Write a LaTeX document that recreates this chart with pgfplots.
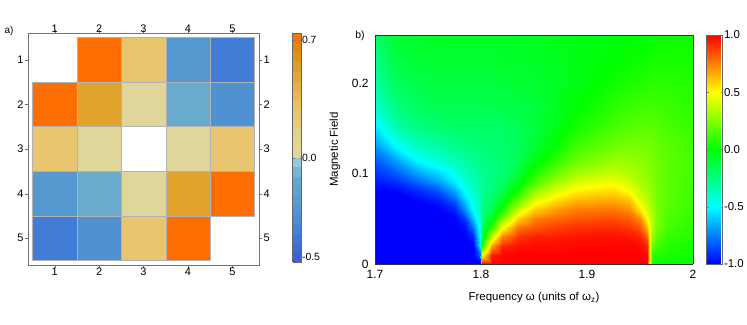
\documentclass[border=0pt]{standalone}
\usepackage{fontspec}
\setmainfont{Liberation Sans}
\usepackage{pgfplots}
\pgfplotsset{compat=1.18}
\begin{document}
\begin{tikzpicture}
\pgfplotsset{/pgf/number format/assume math mode=true}
% ---------------- panel a ----------------
\begin{axis}[
  at={(28bp,60bp)}, anchor=south west, scale only axis, width=231bp, height=232bp,
  xmin=0.4, xmax=5.6, ymin=0.4, ymax=5.6, y dir=reverse,
  xtick={1,2,3,4,5}, ytick={1,2,3,4,5},
  tick align=outside, major tick length=3bp,
  axis line style={draw=black!55}, tick style={black!55},
  xticklabel pos=lower, yticklabel pos=left,
  ticklabel style={font=\fontsize{11}{13}\selectfont},
  xticklabel style={yshift=4bp}, yticklabel style={xshift=2bp},
  colormap={cba}{
    rgb255(0pt)=(62,90,212)
    rgb255(15pt)=(65,125,215)
    rgb255(25pt)=(80,145,210)
    rgb255(35pt)=(92,160,207)
    rgb255(45pt)=(105,170,205)
    rgb255(54pt)=(160,205,225)
    rgb255(55pt)=(224,216,158)
    rgb255(65pt)=(226,212,148)
    rgb255(80pt)=(232,197,110)
    rgb255(90pt)=(230,180,78)
    rgb255(100pt)=(225,163,45)
    rgb255(110pt)=(222,142,20)
    rgb255(120pt)=(255,110,0)
  },
  point meta min=-0.5, point meta max=0.7,
  colorbar sampled,
  colorbar style={samples=25, at={(parent axis.north east)}, anchor=north west,
    xshift=25bp, scale only axis, width=9bp, height=229bp,
    ytick={-0.474,0.045,0.663}, yticklabels={-0.5,0.0,0.7},
    major tick length=2bp, axis line style={draw=black!60},
    yticklabel style={font=\fontsize{10.5}{12}\selectfont, xshift=-3bp}},
]
\addplot[patch, patch type=rectangle, shader=faceted, faceted color=black!30, point meta=explicit] coordinates {
(1.5,0.5)[0.7] (2.5,0.5)[0.7] (2.5,1.5)[0.7] (1.5,1.5)[0.7]
(2.5,0.5)[0.3] (3.5,0.5)[0.3] (3.5,1.5)[0.3] (2.5,1.5)[0.3]
(3.5,0.5)[-0.2] (4.5,0.5)[-0.2] (4.5,1.5)[-0.2] (3.5,1.5)[-0.2]
(4.5,0.5)[-0.35] (5.5,0.5)[-0.35] (5.5,1.5)[-0.35] (4.5,1.5)[-0.35]
(0.5,1.5)[0.7] (1.5,1.5)[0.7] (1.5,2.5)[0.7] (0.5,2.5)[0.7]
(1.5,1.5)[0.5] (2.5,1.5)[0.5] (2.5,2.5)[0.5] (1.5,2.5)[0.5]
(2.5,1.5)[0.1] (3.5,1.5)[0.1] (3.5,2.5)[0.1] (2.5,2.5)[0.1]
(3.5,1.5)[-0.05] (4.5,1.5)[-0.05] (4.5,2.5)[-0.05] (3.5,2.5)[-0.05]
(4.5,1.5)[-0.25] (5.5,1.5)[-0.25] (5.5,2.5)[-0.25] (4.5,2.5)[-0.25]
(0.5,2.5)[0.3] (1.5,2.5)[0.3] (1.5,3.5)[0.3] (0.5,3.5)[0.3]
(1.5,2.5)[0.1] (2.5,2.5)[0.1] (2.5,3.5)[0.1] (1.5,3.5)[0.1]
(3.5,2.5)[0.1] (4.5,2.5)[0.1] (4.5,3.5)[0.1] (3.5,3.5)[0.1]
(4.5,2.5)[0.3] (5.5,2.5)[0.3] (5.5,3.5)[0.3] (4.5,3.5)[0.3]
(0.5,3.5)[-0.2] (1.5,3.5)[-0.2] (1.5,4.5)[-0.2] (0.5,4.5)[-0.2]
(1.5,3.5)[-0.05] (2.5,3.5)[-0.05] (2.5,4.5)[-0.05] (1.5,4.5)[-0.05]
(2.5,3.5)[0.1] (3.5,3.5)[0.1] (3.5,4.5)[0.1] (2.5,4.5)[0.1]
(3.5,3.5)[0.5] (4.5,3.5)[0.5] (4.5,4.5)[0.5] (3.5,4.5)[0.5]
(4.5,3.5)[0.7] (5.5,3.5)[0.7] (5.5,4.5)[0.7] (4.5,4.5)[0.7]
(0.5,4.5)[-0.35] (1.5,4.5)[-0.35] (1.5,5.5)[-0.35] (0.5,5.5)[-0.35]
(1.5,4.5)[-0.25] (2.5,4.5)[-0.25] (2.5,5.5)[-0.25] (1.5,5.5)[-0.25]
(2.5,4.5)[0.3] (3.5,4.5)[0.3] (3.5,5.5)[0.3] (2.5,5.5)[0.3]
(3.5,4.5)[0.7] (4.5,4.5)[0.7] (4.5,5.5)[0.7] (3.5,5.5)[0.7]
};
\end{axis}
% top / right tick labels of panel a
\begin{axis}[
  at={(28bp,60bp)}, anchor=south west, scale only axis, width=231bp, height=232bp,
  xmin=0.4, xmax=5.6, ymin=0.4, ymax=5.6, y dir=reverse,
  xtick={1,2,3,4,5}, ytick={1,2,3,4,5},
  axis line style={draw=none}, major tick length=0pt,
  xticklabel pos=right, yticklabel pos=right,
  ticklabel style={font=\fontsize{11}{13}\selectfont},
  xticklabel style={yshift=-3bp}, yticklabel style={xshift=1bp},
]
\end{axis}
\node[font=\fontsize{10}{12}\selectfont] at (9bp,294bp) {a)};
% ---------------- panel b ----------------
\begin{axis}[
  at={(375bp,61bp)}, anchor=south west, scale only axis, width=318bp, height=229bp,
  view={0}{90}, xmin=1.7, xmax=2, ymin=0, ymax=0.253,
  xtick={1.7,1.8,1.9,2}, xticklabels={1.7,1.8,1.9,2},
  ytick={0,0.1,0.2}, yticklabels={0,0.1,0.2}, ztick=\empty,
  major tick length=0pt, axis on top,
  axis line style={draw=black!80},
  ticklabel style={font=\fontsize{12}{14}\selectfont},
  xticklabel style={yshift=-3bp}, yticklabel style={xshift=-3bp},
  label style={font=\fontsize{11.5}{14}\selectfont},
  xlabel={Frequency ω (units of ω\textsubscript{z})}, ylabel={Magnetic Field},
  xlabel style={at={(axis description cs:0.5,-0.148)}, anchor=center},
  ylabel style={at={(axis description cs:-0.126,0.5)}, anchor=center},
  colormap={jetb}{rgb255=(0,0,255) rgb255=(0,255,255) rgb255=(0,255,0) rgb255=(255,255,0) rgb255=(255,0,0)},
  point meta min=-1, point meta max=1,
  colorbar,
  colorbar style={at={(parent axis.north east)}, anchor=north west,
    xshift=5bp, scale only axis, width=16bp, height=229bp,
    ytick={-1,-0.5,0,0.5,1}, yticklabels={-1.0,-0.5,0.0,0.5,1.0},
    major tick length=2bp, axis line style={draw=black!60},
    yticklabel style={font=\fontsize{11.5}{14}\selectfont, xshift=-2bp}},
]
\addplot3[surf, shader=interp, mesh/cols=24] coordinates {
(1.700,0,-1) (1.720,0,-1) (1.740,0,-1) (1.760,0,-1) (1.775,0,-1) (1.785,0,-1) (1.792,0,-1) (1.799,0,-1) (1.801,0,1) (1.810,0,1) (1.820,0,1) (1.835,0,1) (1.850,0,1) (1.870,0,1) (1.890,0,1) (1.910,0,1) (1.925,0,1) (1.940,0,1) (1.950,0,1) (1.957,0,1) (1.961,0,0.05) (1.966,0,0.03) (1.975,0,0.02) (2.000,0,0.02)
(1.700,0.01,-1) (1.720,0.01,-1) (1.740,0.01,-1) (1.760,0.01,-1) (1.775,0.01,-1) (1.785,0.01,-1) (1.792,0.01,-1) (1.799,0.01,-0.8) (1.801,0.01,0.5) (1.810,0.01,0.95) (1.820,0.01,0.99) (1.835,0.01,1) (1.850,0.01,1) (1.870,0.01,1) (1.890,0.01,1) (1.910,0.01,1) (1.925,0.01,1) (1.940,0.01,1) (1.950,0.01,1) (1.957,0.01,0.98) (1.961,0.01,0.1) (1.966,0.01,0.06) (1.975,0.01,0.04) (2.000,0.01,0.03)
(1.700,0.02,-1) (1.720,0.02,-1) (1.740,0.02,-1) (1.760,0.02,-1) (1.775,0.02,-1) (1.785,0.02,-1) (1.792,0.02,-1) (1.799,0.02,-0.55) (1.801,0.02,0.1) (1.810,0.02,0.7) (1.820,0.02,0.93) (1.835,0.02,0.97) (1.850,0.02,0.98) (1.870,0.02,0.98) (1.890,0.02,0.99) (1.910,0.02,0.99) (1.925,0.02,0.99) (1.940,0.02,0.99) (1.950,0.02,0.98) (1.957,0.02,0.93) (1.961,0.02,0.2) (1.966,0.02,0.12) (1.975,0.02,0.07) (2.000,0.02,0.04)
(1.700,0.03,-1) (1.720,0.03,-1) (1.740,0.03,-1) (1.760,0.03,-1) (1.775,0.03,-1) (1.785,0.03,-1) (1.792,0.03,-0.92) (1.799,0.03,-0.5) (1.801,0.03,-0.12) (1.810,0.03,0.4) (1.820,0.03,0.75) (1.835,0.03,0.9) (1.850,0.03,0.94) (1.870,0.03,0.95) (1.890,0.03,0.96) (1.910,0.03,0.97) (1.925,0.03,0.97) (1.940,0.03,0.96) (1.950,0.03,0.93) (1.957,0.03,0.8) (1.961,0.03,0.3) (1.966,0.03,0.18) (1.975,0.03,0.1) (2.000,0.03,0.06)
(1.700,0.04,-1) (1.720,0.04,-1) (1.740,0.04,-1) (1.760,0.04,-1) (1.775,0.04,-1) (1.785,0.04,-0.97) (1.792,0.04,-0.78) (1.799,0.04,-0.46) (1.801,0.04,-0.2) (1.810,0.04,0.12) (1.820,0.04,0.5) (1.835,0.04,0.78) (1.850,0.04,0.84) (1.870,0.04,0.88) (1.890,0.04,0.91) (1.910,0.04,0.92) (1.925,0.04,0.92) (1.940,0.04,0.9) (1.950,0.04,0.83) (1.957,0.04,0.65) (1.961,0.04,0.35) (1.966,0.04,0.22) (1.975,0.04,0.13) (2.000,0.04,0.08)
(1.700,0.05,-1) (1.720,0.05,-1) (1.740,0.05,-1) (1.760,0.05,-1) (1.775,0.05,-1) (1.785,0.05,-0.88) (1.792,0.05,-0.62) (1.799,0.05,-0.42) (1.801,0.05,-0.24) (1.810,0.05,-0.05) (1.820,0.05,0.25) (1.835,0.05,0.6) (1.850,0.05,0.75) (1.870,0.05,0.8) (1.890,0.05,0.83) (1.910,0.05,0.85) (1.925,0.05,0.85) (1.940,0.05,0.82) (1.950,0.05,0.73) (1.957,0.05,0.5) (1.961,0.05,0.35) (1.966,0.05,0.24) (1.975,0.05,0.15) (2.000,0.05,0.09)
(1.700,0.06,-1) (1.720,0.06,-1) (1.740,0.06,-1) (1.760,0.06,-1) (1.775,0.06,-0.93) (1.785,0.06,-0.72) (1.792,0.06,-0.5) (1.799,0.06,-0.38) (1.801,0.06,-0.26) (1.810,0.06,-0.15) (1.820,0.06,0.05) (1.835,0.06,0.4) (1.850,0.06,0.6) (1.870,0.06,0.7) (1.890,0.06,0.76) (1.910,0.06,0.77) (1.925,0.06,0.77) (1.940,0.06,0.73) (1.950,0.06,0.55) (1.957,0.06,0.42) (1.961,0.06,0.33) (1.966,0.06,0.24) (1.975,0.06,0.17) (2.000,0.06,0.1)
(1.700,0.07,-1) (1.720,0.07,-1) (1.740,0.07,-1) (1.760,0.07,-0.95) (1.775,0.07,-0.82) (1.785,0.07,-0.6) (1.792,0.07,-0.45) (1.799,0.07,-0.35) (1.801,0.07,-0.27) (1.810,0.07,-0.2) (1.820,0.07,-0.08) (1.835,0.07,0.2) (1.850,0.07,0.45) (1.870,0.07,0.57) (1.890,0.07,0.65) (1.910,0.07,0.67) (1.925,0.07,0.67) (1.940,0.07,0.63) (1.950,0.07,0.45) (1.957,0.07,0.37) (1.961,0.07,0.3) (1.966,0.07,0.23) (1.975,0.07,0.18) (2.000,0.07,0.11)
(1.700,0.08,-1) (1.720,0.08,-1) (1.740,0.08,-0.93) (1.760,0.08,-0.85) (1.775,0.08,-0.68) (1.785,0.08,-0.5) (1.792,0.08,-0.4) (1.799,0.08,-0.33) (1.801,0.08,-0.28) (1.810,0.08,-0.23) (1.820,0.08,-0.15) (1.835,0.08,0.05) (1.850,0.08,0.3) (1.870,0.08,0.45) (1.890,0.08,0.54) (1.910,0.08,0.57) (1.925,0.08,0.58) (1.940,0.08,0.5) (1.950,0.08,0.38) (1.957,0.08,0.33) (1.961,0.08,0.28) (1.966,0.08,0.23) (1.975,0.08,0.18) (2.000,0.08,0.12)
(1.700,0.09,-0.97) (1.720,0.09,-0.92) (1.740,0.09,-0.82) (1.760,0.09,-0.7) (1.775,0.09,-0.55) (1.785,0.09,-0.43) (1.792,0.09,-0.36) (1.799,0.09,-0.31) (1.801,0.09,-0.28) (1.810,0.09,-0.25) (1.820,0.09,-0.2) (1.835,0.09,-0.05) (1.850,0.09,0.15) (1.870,0.09,0.32) (1.890,0.09,0.43) (1.910,0.09,0.47) (1.925,0.09,0.48) (1.940,0.09,0.42) (1.950,0.09,0.33) (1.957,0.09,0.3) (1.961,0.09,0.27) (1.966,0.09,0.22) (1.975,0.09,0.18) (2.000,0.09,0.12)
(1.700,0.10,-0.9) (1.720,0.10,-0.82) (1.740,0.10,-0.68) (1.760,0.10,-0.57) (1.775,0.10,-0.46) (1.785,0.10,-0.38) (1.792,0.10,-0.33) (1.799,0.10,-0.29) (1.801,0.10,-0.28) (1.810,0.10,-0.26) (1.820,0.10,-0.23) (1.835,0.10,-0.12) (1.850,0.10,0.05) (1.870,0.10,0.2) (1.890,0.10,0.32) (1.910,0.10,0.36) (1.925,0.10,0.39) (1.940,0.10,0.35) (1.950,0.10,0.3) (1.957,0.10,0.28) (1.961,0.10,0.25) (1.966,0.10,0.22) (1.975,0.10,0.18) (2.000,0.10,0.13)
(1.700,0.115,-0.82) (1.720,0.115,-0.68) (1.740,0.115,-0.5) (1.760,0.115,-0.42) (1.775,0.115,-0.36) (1.785,0.115,-0.32) (1.792,0.115,-0.29) (1.799,0.115,-0.27) (1.801,0.115,-0.26) (1.810,0.115,-0.25) (1.820,0.115,-0.23) (1.835,0.115,-0.16) (1.850,0.115,-0.05) (1.870,0.115,0.08) (1.890,0.115,0.2) (1.910,0.115,0.26) (1.925,0.115,0.3) (1.940,0.115,0.29) (1.950,0.115,0.27) (1.957,0.115,0.26) (1.961,0.115,0.24) (1.966,0.115,0.21) (1.975,0.115,0.18) (2.000,0.115,0.13)
(1.700,0.13,-0.7) (1.720,0.13,-0.5) (1.740,0.13,-0.38) (1.760,0.13,-0.32) (1.775,0.13,-0.28) (1.785,0.13,-0.26) (1.792,0.13,-0.24) (1.799,0.13,-0.23) (1.801,0.13,-0.23) (1.810,0.13,-0.22) (1.820,0.13,-0.21) (1.835,0.13,-0.18) (1.850,0.13,-0.1) (1.870,0.13,0) (1.890,0.13,0.12) (1.910,0.13,0.18) (1.925,0.13,0.22) (1.940,0.13,0.24) (1.950,0.13,0.24) (1.957,0.13,0.23) (1.961,0.13,0.22) (1.966,0.13,0.2) (1.975,0.13,0.17) (2.000,0.13,0.12)
(1.700,0.15,-0.55) (1.720,0.15,-0.35) (1.740,0.15,-0.26) (1.760,0.15,-0.22) (1.775,0.15,-0.2) (1.785,0.15,-0.2) (1.792,0.15,-0.2) (1.799,0.15,-0.2) (1.801,0.15,-0.2) (1.810,0.15,-0.2) (1.820,0.15,-0.19) (1.835,0.15,-0.17) (1.850,0.15,-0.12) (1.870,0.15,-0.05) (1.890,0.15,0.04) (1.910,0.15,0.1) (1.925,0.15,0.14) (1.940,0.15,0.17) (1.950,0.15,0.18) (1.957,0.15,0.18) (1.961,0.15,0.18) (1.966,0.15,0.17) (1.975,0.15,0.15) (2.000,0.15,0.1)
(1.700,0.17,-0.42) (1.720,0.17,-0.26) (1.740,0.17,-0.2) (1.760,0.17,-0.17) (1.775,0.17,-0.16) (1.785,0.17,-0.16) (1.792,0.17,-0.16) (1.799,0.17,-0.16) (1.801,0.17,-0.16) (1.810,0.17,-0.16) (1.820,0.17,-0.15) (1.835,0.17,-0.14) (1.850,0.17,-0.12) (1.870,0.17,-0.07) (1.890,0.17,0) (1.910,0.17,0.05) (1.925,0.17,0.09) (1.940,0.17,0.12) (1.950,0.17,0.13) (1.957,0.17,0.14) (1.961,0.17,0.14) (1.966,0.17,0.13) (1.975,0.17,0.12) (2.000,0.17,0.09)
(1.700,0.20,-0.32) (1.720,0.20,-0.18) (1.740,0.20,-0.14) (1.760,0.20,-0.12) (1.775,0.20,-0.12) (1.785,0.20,-0.12) (1.792,0.20,-0.12) (1.799,0.20,-0.12) (1.801,0.20,-0.12) (1.810,0.20,-0.12) (1.820,0.20,-0.11) (1.835,0.20,-0.1) (1.850,0.20,-0.09) (1.870,0.20,-0.07) (1.890,0.20,-0.04) (1.910,0.20,0) (1.925,0.20,0.03) (1.940,0.20,0.05) (1.950,0.20,0.06) (1.957,0.20,0.07) (1.961,0.20,0.08) (1.966,0.20,0.08) (1.975,0.20,0.08) (2.000,0.20,0.06)
(1.700,0.23,-0.25) (1.720,0.23,-0.13) (1.740,0.23,-0.1) (1.760,0.23,-0.09) (1.775,0.23,-0.09) (1.785,0.23,-0.09) (1.792,0.23,-0.09) (1.799,0.23,-0.09) (1.801,0.23,-0.09) (1.810,0.23,-0.09) (1.820,0.23,-0.08) (1.835,0.23,-0.08) (1.850,0.23,-0.07) (1.870,0.23,-0.06) (1.890,0.23,-0.04) (1.910,0.23,-0.02) (1.925,0.23,-0.01) (1.940,0.23,0.01) (1.950,0.23,0.02) (1.957,0.23,0.02) (1.961,0.23,0.03) (1.966,0.23,0.04) (1.975,0.23,0.04) (2.000,0.23,0.04)
(1.700,0.253,-0.2) (1.720,0.253,-0.1) (1.740,0.253,-0.08) (1.760,0.253,-0.07) (1.775,0.253,-0.07) (1.785,0.253,-0.07) (1.792,0.253,-0.07) (1.799,0.253,-0.07) (1.801,0.253,-0.07) (1.810,0.253,-0.07) (1.820,0.253,-0.06) (1.835,0.253,-0.06) (1.850,0.253,-0.05) (1.870,0.253,-0.04) (1.890,0.253,-0.03) (1.910,0.253,-0.02) (1.925,0.253,-0.01) (1.940,0.253,0) (1.950,0.253,0) (1.957,0.253,0.01) (1.961,0.253,0.01) (1.966,0.253,0.02) (1.975,0.253,0.02) (2.000,0.253,0.03)
};
\end{axis}
\node[font=\fontsize{10.5}{12}\selectfont] at (360bp,289bp) {b)};
\pgfresetboundingbox
\path (0bp,0bp) rectangle (747bp,325bp);
\end{tikzpicture}
\end{document}
